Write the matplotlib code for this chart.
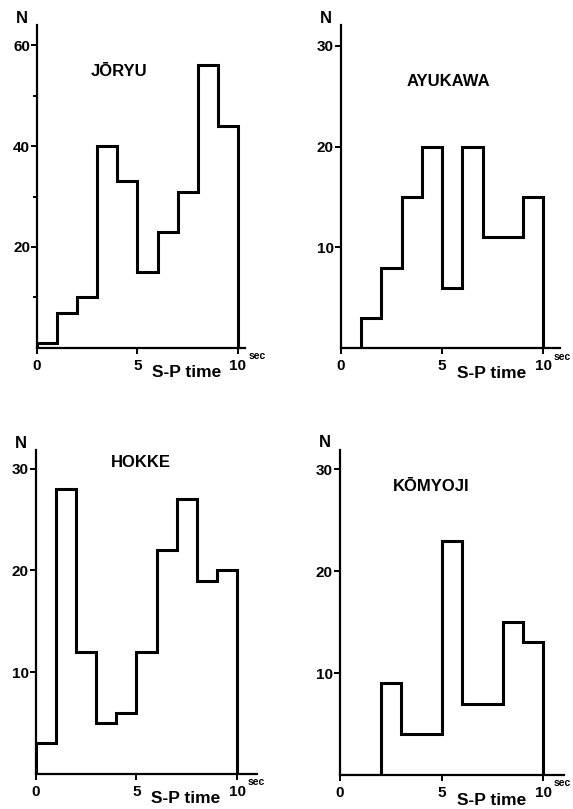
import matplotlib
matplotlib.use('Agg')
import matplotlib.pyplot as plt
import numpy as np

# S-P time histograms, 1 sec bins from 0 to 10 sec
edges = np.arange(0, 11, 1)

joryu = [1, 7, 10, 40, 33, 15, 23, 31, 56, 44]
ayukawa = [0, 3, 8, 15, 20, 6, 20, 11, 11, 15]
hokke = [3, 28, 12, 5, 6, 12, 22, 27, 19, 20]
komyoji = [0, 0, 9, 4, 4, 23, 7, 7, 15, 13]

names = ['JŌRYU', 'AYUKAWA', 'HOKKE', 'KŌMYOJI']
counts = [joryu, ayukawa, hokke, komyoji]

plt.rcParams['font.family'] = ['Liberation Sans', 'DejaVu Sans']
plt.rcParams['font.weight'] = 'bold'

fig = plt.figure(figsize=(5.73, 8.09), dpi=100)

# [left, bottom, width, height], xmax, ymax, yticks, minor yticks, title pos
panels = [
    ([0.0646, 0.570, 0.363, 0.399], 10.35, 64, [20, 40, 60], [10, 30, 50], (4.1, 54.7)),
    ([0.5946, 0.5695, 0.382, 0.399], 10.8, 32, [10, 20, 30], [], (5.3, 26.4)),
    ([0.0623, 0.0433, 0.387, 0.400], 11.0, 31.8, [10, 20, 30], [], (5.2, 30.6)),
    ([0.593, 0.042, 0.391, 0.402], 11.0, 31.9, [10, 20, 30], [], (4.5, 28.3)),
]

for (rect, xmax, ymax, yt, ymin_t, tpos), name, vals in zip(panels, names, counts):
    ax = fig.add_axes(rect)
    ax.stairs(vals, edges, baseline=0, color='black', lw=2.2)
    ax.set_xlim(0, xmax)
    ax.set_ylim(0, ymax)
    for s in ['top', 'right']:
        ax.spines[s].set_visible(False)
    for s in ['left', 'bottom']:
        ax.spines[s].set_linewidth(1.6)
    ax.set_xticks([0, 5, 10])
    ax.set_xticklabels(['0', '5', '10'])
    ax.set_yticks(yt)
    ax.set_yticks(ymin_t, minor=True)
    ax.tick_params(axis='both', which='both', direction='out', width=1.4,
                   labelsize=11, colors='black')
    ax.tick_params(axis='y', which='major', length=4, pad=1)
    ax.tick_params(axis='y', which='minor', length=3)
    ax.tick_params(axis='x', which='major', length=4, pad=4)
    ax.text(tpos[0], tpos[1], name, ha='center', va='center', fontsize=12,
            fontweight='bold')
    ax.annotate('N', xy=(0, 1), xycoords='axes fraction', xytext=(-11, 5),
                textcoords='offset points', ha='center', va='center',
                fontsize=12, fontweight='bold')
    ax.annotate('sec', xy=(10, 0), xycoords='data', xytext=(7.5, -6),
                textcoords='offset points', ha='left', va='center',
                fontsize=7.5, fontweight='bold')
    ax.annotate('S-P time', xy=(7.45, 0), xycoords='data', xytext=(0, -18),
                textcoords='offset points', ha='center', va='center',
                fontsize=12.5, fontweight='bold')

fig.savefig('out.png', dpi=100)
